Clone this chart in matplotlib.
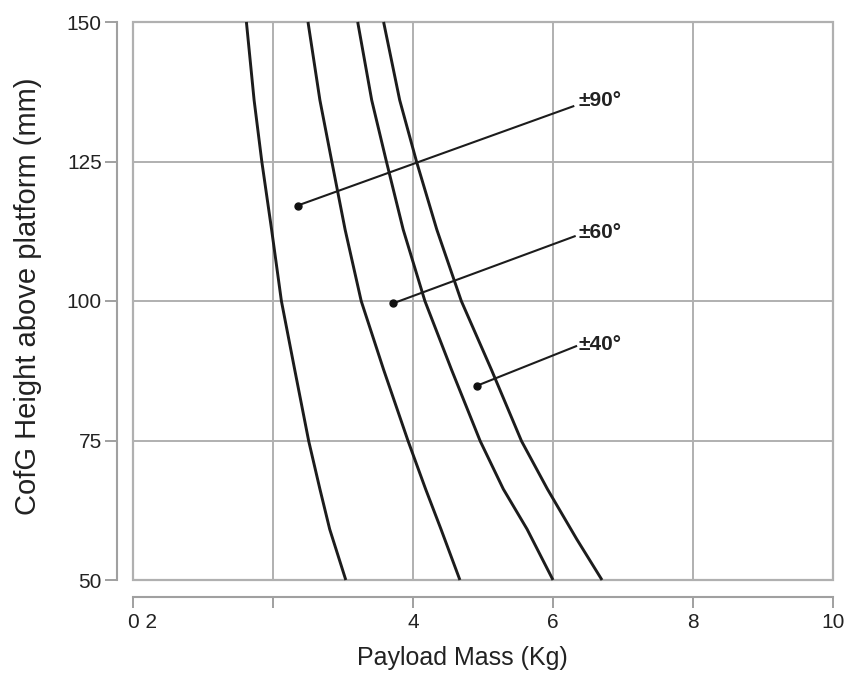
import matplotlib.pyplot as plt
from matplotlib.patches import Rectangle
from matplotlib.transforms import ScaledTranslation

plt.rcParams['font.family'] = ['Liberation Sans', 'DejaVu Sans']

# curves (payload mass kg, height mm)
a_mass = [1.62, 1.73, 1.84, 1.98, 2.12, 2.31, 2.51, 2.67, 2.81, 3.04]
a_height = [150, 136, 125, 112.8, 100, 87.7, 74.9, 66.3, 59.1, 50]
b_mass = [2.50, 2.67, 2.84, 3.03, 3.26, 3.58, 3.93, 4.18, 4.40, 4.67]
b_height = [150, 136, 125, 112.8, 100, 87.7, 74.9, 66.3, 59.1, 50]
c_mass = [3.21, 3.41, 3.62, 3.86, 4.17, 4.55, 4.96, 5.29, 5.63, 6.00]
c_height = [150, 136, 125, 112.8, 100, 87.7, 74.9, 66.3, 59.1, 50]
d_mass = [3.58, 3.81, 4.05, 4.34, 4.69, 5.12, 5.55, 5.92, 6.34, 6.70]
d_height = [150, 136, 125, 112.8, 100, 87.7, 74.9, 66.3, 57.3, 50]

# leader lines: dot point -> label point
labels = ['\u00b190\u00b0', '\u00b160\u00b0', '\u00b140\u00b0']
dot_x = [2.35, 3.72, 4.91]
dot_y = [117.1, 99.6, 84.8]
end_x = [6.29, 6.31, 6.33]
end_y = [134.9, 111.6, 91.9]
text_x = [6.37, 6.37, 6.37]
text_y = [136.0, 112.2, 92.2]

x_ticks = [0, 2, 4, 6, 8, 10]
x_ticklabels = ['0 2', '', '4', '6', '8', '10']
y_ticks = [50, 75, 100, 125, 150]

fig = plt.figure(figsize=(8.48, 6.73), dpi=100)
ax = fig.add_axes([133 / 848, 1 - 580 / 673, 700 / 848, 558 / 673])

grey = '#b0b0b0'
ax.set_xlim(0, 10)
ax.set_ylim(50, 150)
ax.set_xticks(x_ticks)
ax.set_xticklabels(x_ticklabels)
ax.set_yticks(y_ticks)
ax.grid(True, color=grey, lw=1.4)
ax.set_axisbelow(True)

for s in ['top', 'right']:
    ax.spines[s].set_visible(False)
ax.spines['left'].set_position(('outward', 11.5))
ax.spines['bottom'].set_position(('outward', 12))
for s in ['left', 'bottom']:
    ax.spines[s].set_color('#a0a0a0')
    ax.spines[s].set_linewidth(1.5)
ax.add_patch(Rectangle((0, 0), 1, 1, transform=ax.transAxes, fill=False,
                       ec=grey, lw=1.6, clip_on=False, zorder=0.5))

ax.tick_params(axis='both', colors='#999999', labelcolor='#222222',
               labelsize=15, width=1.3)
ax.tick_params(axis='y', length=9, pad=2)
ax.tick_params(axis='x', length=8, pad=4)
ax.xaxis.get_major_ticks()[1].tick1line.set_color('#111111')

# the "0 2" label sits a little right of its tick
first = ax.get_xticklabels()[0]
first.set_transform(first.get_transform() + ScaledTranslation(0.10, 0, fig.dpi_scale_trans))

line_kw = dict(color='#1c1c1c', lw=2.1, solid_capstyle='butt', clip_on=False)
ax.plot(a_mass, a_height, **line_kw)
ax.plot(b_mass, b_height, **line_kw)
ax.plot(c_mass, c_height, **line_kw)
ax.plot(d_mass, d_height, **line_kw)

for i in range(len(labels)):
    ax.plot([dot_x[i], end_x[i]], [dot_y[i], end_y[i]], color='#1c1c1c', lw=1.5)
    ax.plot(dot_x[i], dot_y[i], 'o', color='#111111', ms=5)
    ax.text(text_x[i], text_y[i], labels[i], fontsize=15, fontweight='bold',
            color='#222222', ha='left', va='center')

ax.set_xlabel('Payload Mass (Kg)', fontsize=18, color='#222222')
ax.set_ylabel('CofG Height above platform (mm)', fontsize=21, color='#222222')
ax.xaxis.set_label_coords(0.471, -0.118)
ax.yaxis.set_label_coords(-0.130, 0.508)

fig.savefig('out.png', dpi=100)
